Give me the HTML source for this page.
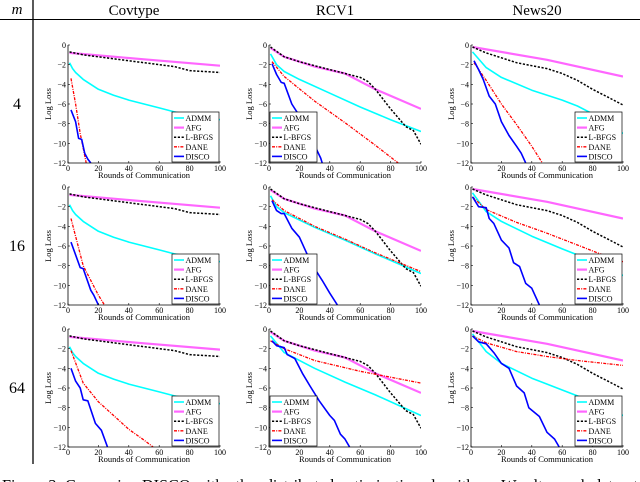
<!DOCTYPE html>
<html><head><meta charset="utf-8">
<style>
html,body{margin:0;padding:0;background:#fff;overflow:hidden}
body{width:640px;height:482px;position:relative;font-family:"Liberation Serif",serif}
svg{position:absolute;left:0;top:0}
</style></head>
<body>
<svg id="fig" width="640" height="482" viewBox="0 0 640 482"></svg>
<script>
// ---- data: rounds (x) and log loss (y) per series per panel ----
const cov4_admm_r=[1,3,5,10,20,30,40,50,60,70,80,90,100];
const cov4_admm_l=[-1.8,-2.4,-2.8,-3.5,-4.5,-5.1,-5.6,-6.0,-6.4,-6.8,-7.1,-7.3,-7.6];
const cov4_afg_r=[1,50,100];
const cov4_afg_l=[-0.8,-1.45,-2.1];
const cov4_lbfgs_r=[1,10,30,50,70,80,100];
const cov4_lbfgs_l=[-0.7,-1.0,-1.4,-1.8,-2.2,-2.6,-2.8];
const cov4_dane_r=[2,5,8,12];
const cov4_dane_l=[-3.4,-6,-9,-12];
const cov4_disco_r=[2,5,7,9,11,13,15];
const cov4_disco_l=[-6.6,-7.8,-9.5,-9.6,-11,-11.6,-12];

const cov16_admm_r=cov4_admm_r, cov16_admm_l=cov4_admm_l;
const cov16_afg_r=cov4_afg_r, cov16_afg_l=cov4_afg_l;
const cov16_lbfgs_r=cov4_lbfgs_r, cov16_lbfgs_l=cov4_lbfgs_l;
const cov16_dane_r=[2,10,20,24];
const cov16_dane_l=[-3.2,-8,-11,-12];
const cov16_disco_r=[2,8,10,15,17,20];
const cov16_disco_l=[-5.6,-8.2,-8.3,-10.5,-11,-12];

const cov64_admm_r=cov4_admm_r, cov64_admm_l=cov4_admm_l;
const cov64_afg_r=cov4_afg_r, cov64_afg_l=cov4_afg_l;
const cov64_lbfgs_r=cov4_lbfgs_r, cov64_lbfgs_l=cov4_lbfgs_l;
const cov64_dane_r=[2,10,20,30,40,50,56];
const cov64_dane_l=[-2.2,-5.5,-7.4,-8.8,-10.2,-11.3,-12];
const cov64_disco_r=[2,5,8,10,13,18,22,26];
const cov64_disco_l=[-4,-5.3,-6,-7.2,-7.3,-9.6,-10.3,-12];

const rcv4_admm_r=[1,5,10,20,40,60,80,100];
const rcv4_admm_l=[-0.9,-2,-2.7,-3.5,-4.9,-6.3,-7.6,-8.8];
const rcv4_afg_r=[1,10,30,50,70,100];
const rcv4_afg_l=[-0.3,-1.2,-2.2,-2.9,-4.5,-6.5];
const rcv4_lbfgs_r=[1,10,20,30,40,50,60,65,70,80,90,95,100];
const rcv4_lbfgs_l=[-0.2,-1.2,-1.7,-2.1,-2.5,-2.9,-3.3,-3.7,-4.5,-6.5,-8.3,-8.7,-10.1];
const rcv4_dane_r=[2,10,30,50,70,85];
const rcv4_dane_l=[-1.7,-3.2,-5.7,-7.9,-10.2,-12];
const rcv4_disco_r=[2,5,8,10,15,20,25,30,34,35];
const rcv4_disco_l=[-1.9,-3,-3.8,-3.9,-6,-7.2,-8.7,-10.2,-11.5,-12];

const rcv16_admm_r=[1,5,10,30,50,70,100];
const rcv16_admm_l=[-0.9,-2,-2.6,-4.1,-5.4,-6.8,-8.8];
const rcv16_afg_r=rcv4_afg_r, rcv16_afg_l=rcv4_afg_l;
const rcv16_lbfgs_r=rcv4_lbfgs_r, rcv16_lbfgs_l=rcv4_lbfgs_l;
const rcv16_dane_r=[2,10,30,50,70,100];
const rcv16_dane_l=[-1.3,-2.4,-4,-5.3,-6.7,-8.6];
const rcv16_disco_r=[2,5,8,10,15,20,25,30,35,40,45];
const rcv16_disco_l=[-1.4,-2.4,-2.7,-2.7,-4.2,-5.1,-6.8,-8.3,-9.5,-10.8,-12];

const rcv64_admm_r=[1,10,30,50,70,100];
const rcv64_admm_l=[-0.7,-2.4,-4.0,-5.4,-6.7,-8.8];
const rcv64_afg_r=rcv4_afg_r, rcv64_afg_l=rcv4_afg_l;
const rcv64_lbfgs_r=rcv4_lbfgs_r, rcv64_lbfgs_l=rcv4_lbfgs_l;
const rcv64_dane_r=[1,10,30,60,80,100];
const rcv64_dane_l=[-1.2,-2,-3.2,-4.3,-4.9,-5.5];
const rcv64_disco_r=[2,5,10,12,17,22,27,33,40,43,47,50,53];
const rcv64_disco_l=[-1.2,-1.7,-1.9,-2.6,-3,-4.5,-5.8,-7.3,-8.8,-9.3,-10.7,-11.2,-12];

const news4_admm_r=[1,10,20,40,60,70,80,100];
const news4_admm_l=[-0.7,-2.3,-3.3,-4.6,-5.6,-6.2,-7,-9];
const news4_afg_r=[1,50,100];
const news4_afg_l=[-0.2,-1.5,-3.2];
const news4_lbfgs_r=[1,10,20,30,40,50,60,70,80,90,100];
const news4_lbfgs_l=[-0.2,-0.8,-1.3,-1.8,-2.1,-2.4,-2.9,-3.6,-4.5,-5.3,-6.1];
const news4_dane_r=[2,10,20,30,40,47];
const news4_dane_l=[-1.8,-3.6,-6,-8.1,-10.3,-12];
const news4_disco_r=[2,5,8,12,16,20,25,30,33,36];
const news4_disco_l=[-1.6,-2.5,-3.5,-5.2,-6,-7.8,-9.2,-10.3,-11,-12];

const news16_admm_r=[1,10,20,40,60,70,100];
const news16_admm_l=[-0.6,-2.5,-3.5,-5,-6.3,-6.9,-9];
const news16_afg_r=news4_afg_r, news16_afg_l=news4_afg_l;
const news16_lbfgs_r=news4_lbfgs_r, news16_lbfgs_l=news4_lbfgs_l;
const news16_dane_r=[1,10,30,50,70,85,100];
const news16_dane_l=[-1,-2.3,-3.6,-4.7,-5.9,-6.8,-7.6];
const news16_disco_r=[1,5,10,12,15,20,25,28,32,36,40,45];
const news16_disco_l=[-1,-2,-2.1,-3.2,-3.7,-5.4,-6.2,-7.7,-8.1,-9.8,-10.3,-12];

const news64_admm_r=[1,10,20,40,60,70,100];
const news64_admm_l=[-0.5,-2.3,-3.5,-5,-6.2,-6.8,-8.8];
const news64_afg_r=news4_afg_r, news64_afg_l=news4_afg_l;
const news64_lbfgs_r=news4_lbfgs_r, news64_lbfgs_l=news4_lbfgs_l;
const news64_dane_r=[1,10,30,50,70,100];
const news64_dane_l=[-0.7,-1.4,-2.3,-2.8,-3.2,-3.7];
const news64_disco_r=[1,5,10,15,20,25,30,35,38,45,50,55,58];
const news64_disco_l=[-0.7,-1.3,-1.5,-2.4,-3.5,-4,-5.8,-6.5,-8,-8.9,-10.5,-11.2,-12];

const datasets=["Covtype","RCV1","News20"];
const mValues=["4","16","64"];
const methods=["ADMM","AFG","L-BFGS","DANE","DISCO"];
const xTicks=[0,20,40,60,80,100];
const yTicks=[0,-2,-4,-6,-8,-10,-12];

const grid=[
 [[cov4_admm_r,cov4_admm_l],[cov4_afg_r,cov4_afg_l],[cov4_lbfgs_r,cov4_lbfgs_l],[cov4_dane_r,cov4_dane_l],[cov4_disco_r,cov4_disco_l]],
 [[rcv4_admm_r,rcv4_admm_l],[rcv4_afg_r,rcv4_afg_l],[rcv4_lbfgs_r,rcv4_lbfgs_l],[rcv4_dane_r,rcv4_dane_l],[rcv4_disco_r,rcv4_disco_l]],
 [[news4_admm_r,news4_admm_l],[news4_afg_r,news4_afg_l],[news4_lbfgs_r,news4_lbfgs_l],[news4_dane_r,news4_dane_l],[news4_disco_r,news4_disco_l]],
 [[cov16_admm_r,cov16_admm_l],[cov16_afg_r,cov16_afg_l],[cov16_lbfgs_r,cov16_lbfgs_l],[cov16_dane_r,cov16_dane_l],[cov16_disco_r,cov16_disco_l]],
 [[rcv16_admm_r,rcv16_admm_l],[rcv16_afg_r,rcv16_afg_l],[rcv16_lbfgs_r,rcv16_lbfgs_l],[rcv16_dane_r,rcv16_dane_l],[rcv16_disco_r,rcv16_disco_l]],
 [[news16_admm_r,news16_admm_l],[news16_afg_r,news16_afg_l],[news16_lbfgs_r,news16_lbfgs_l],[news16_dane_r,news16_dane_l],[news16_disco_r,news16_disco_l]],
 [[cov64_admm_r,cov64_admm_l],[cov64_afg_r,cov64_afg_l],[cov64_lbfgs_r,cov64_lbfgs_l],[cov64_dane_r,cov64_dane_l],[cov64_disco_r,cov64_disco_l]],
 [[rcv64_admm_r,rcv64_admm_l],[rcv64_afg_r,rcv64_afg_l],[rcv64_lbfgs_r,rcv64_lbfgs_l],[rcv64_dane_r,rcv64_dane_l],[rcv64_disco_r,rcv64_disco_l]],
 [[news64_admm_r,news64_admm_l],[news64_afg_r,news64_afg_l],[news64_lbfgs_r,news64_lbfgs_l],[news64_dane_r,news64_dane_l],[news64_disco_r,news64_disco_l]]
];

// ---- rendering ----
const NS="http://www.w3.org/2000/svg";
const svg=document.getElementById("fig");
function el(tag,attrs,parent){const e=document.createElementNS(NS,tag);for(const k in attrs)e.setAttribute(k,attrs[k]);(parent||svg).appendChild(e);return e;}
const styles=[
 {stroke:"#00ffff",w:1.6,dash:""},
 {stroke:"#ff66ff",w:2.2,dash:""},
 {stroke:"#000000",w:1.5,dash:"2.2,1.6"},
 {stroke:"#ff0000",w:1.3,dash:"3,1.2,1,1.2"},
 {stroke:"#0000ff",w:1.6,dash:""}
];
const colLeft=[68,269,471], colW=152, rowTop=[45,187,329], rowH=118;
const legendLeftCols=[false,true,false];

// header
let t;
t=el("text",{x:17,y:14,"font-size":15,"font-style":"italic","text-anchor":"middle"});t.textContent="m";


datasets.forEach((d,i)=>{
 const h=el("text",{x:colLeft[i]+colW/2-10,y:15,"font-size":15,"text-anchor":"middle"});h.textContent=d;
 
 
});
let ln=el("line",{x1:0,y1:19.5,x2:640,y2:19.5,stroke:"#000","stroke-width":1});


ln=el("line",{x1:33,y1:0,x2:33,y2:464,stroke:"#000","stroke-width":1.3});


mValues.forEach((m,i)=>{
 const r=el("text",{x:17,y:rowTop[i]+64,"font-size":16,"text-anchor":"middle"});r.textContent=m;
 
 
});

for(let ri=0;ri<3;ri++)for(let ci=0;ci<3;ci++){
 const L=colLeft[ci],T=rowTop[ri];
 const sx=v=>L+v/100*colW, sy=v=>T+(-v)/12*rowH;
 const g=el("g",{});
 
 
 const cid="c"+ri+ci;
 const cp=el("clipPath",{id:cid},g);el("rect",{x:L,y:T-2,width:colW,height:rowH+2},cp);
 // series
 grid[ri*3+ci].forEach((s,k)=>{
  const pts=s[0].map((x,j)=>sx(x).toFixed(1)+","+sy(s[1][j]).toFixed(1)).join(" ");
  const p=el("polyline",{points:pts,fill:"none",stroke:styles[k].stroke,"stroke-width":styles[k].w,"stroke-dasharray":styles[k].dash,"clip-path":"url(#"+cid+")","stroke-linejoin":"round"},g);
  
  
 });
 // axes
 const ax=el("path",{d:`M${L},${T} L${L},${T+rowH} L${L+colW},${T+rowH}`,fill:"none",stroke:"#000","stroke-width":0.8},g);
 
 
 xTicks.forEach(v=>{
  el("line",{x1:sx(v),y1:T+rowH,x2:sx(v),y2:T+rowH-2,stroke:"#000","stroke-width":0.6},g);
  const tx=el("text",{x:sx(v),y:T+rowH+8,"font-size":8,"text-anchor":"middle"},g);tx.textContent=v;
  
  
 });
 yTicks.forEach(v=>{
  el("line",{x1:L,y1:sy(v),x2:L+2,y2:sy(v),stroke:"#000","stroke-width":0.6},g);
  const ty=el("text",{x:L-2,y:sy(v)+3,"font-size":8,"text-anchor":"end"},g);ty.textContent=v===0?"0":"\u2212"+(-v);
  
  
 });
 const xl=el("text",{x:L+colW/2,y:T+rowH+15,"font-size":8.5,"text-anchor":"middle"},g);xl.textContent="Rounds of Communication";
 
 
 const yl=el("text",{x:0,y:0,"font-size":8.5,"text-anchor":"middle",transform:`translate(${L-17},${T+rowH/2}) rotate(-90)`},g);yl.textContent="Log Loss";
 
 
 // legend
 const lw=47,lh=50, lx=legendLeftCols[ci]?L+1:L+colW-lw-1, ly=T+rowH-lh-1;
 const lg=el("g",{},g);
 
 
 el("rect",{x:lx,y:ly,width:lw,height:lh,fill:"#fff",stroke:"#000","stroke-width":0.7},lg);
 methods.forEach((m,k)=>{
  const yy=ly+6+k*9.6;
  el("line",{x1:lx+2,y1:yy,x2:lx+12,y2:yy,stroke:styles[k].stroke,"stroke-width":styles[k].w,"stroke-dasharray":styles[k].dash},lg);
  const lt=el("text",{x:lx+13.5,y:yy+3,"font-size":8},lg);lt.textContent=m;
  
  
 });
}
const cap=el("text",{x:2,y:491,"font-size":16.5,textLength:636,lengthAdjust:"spacingAndGlyphs"});
cap.textContent="Figure 3: Comparing DISCO with other distributed optimization algorithms. We alter each dataset";


</script>
</body></html>
